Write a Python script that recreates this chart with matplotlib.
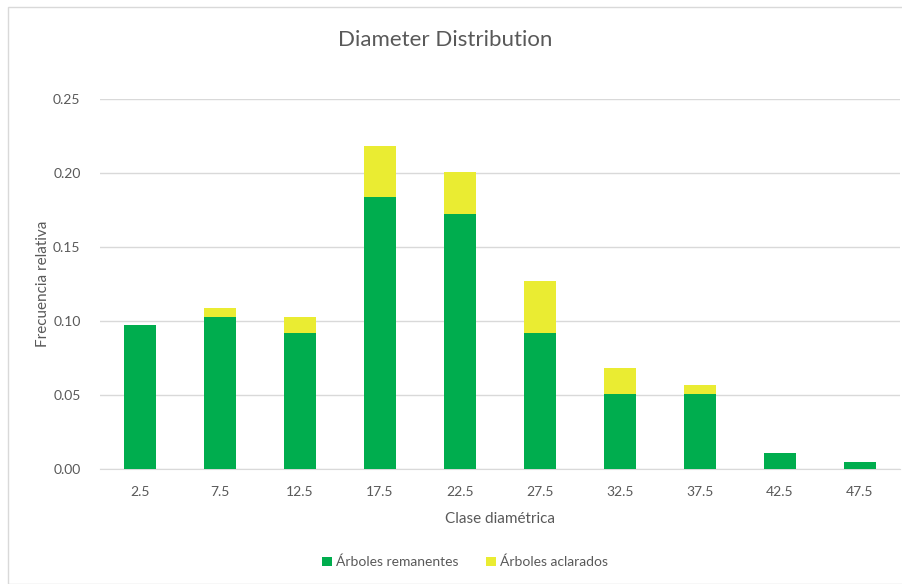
import matplotlib
matplotlib.use("Agg")
import matplotlib.pyplot as plt
from matplotlib.patches import Rectangle

categories = ["2.5", "7.5", "12.5", "17.5", "22.5", "27.5", "32.5", "37.5", "42.5", "47.5"]
remanentes = [0.097, 0.103, 0.092, 0.184, 0.172, 0.092, 0.051, 0.051, 0.011, 0.005]
aclarados = [0.0, 0.006, 0.011, 0.034, 0.029, 0.035, 0.017, 0.006, 0.0, 0.0]
yticks = [0.00, 0.05, 0.10, 0.15, 0.20, 0.25]

green = "#00AD4E"
yellow = "#EAEC32"
txt = "#595959"

plt.rcParams['font.family'] = ['Lato', 'DejaVu Sans']

fig = plt.figure(figsize=(9.02, 5.84), dpi=100)
W, H = 902, 584
ax = fig.add_axes([100 / W, 1 - 469 / H, 800 / W, 370 / H])

x = range(len(categories))
ax.bar(x, remanentes, width=0.39, color=green, label="Árboles remanentes", zorder=3)
ax.bar(x, aclarados, width=0.39, bottom=remanentes, color=yellow, label="Árboles aclarados", zorder=3)

ax.set_xlim(-0.5, len(categories) - 0.5)
ax.set_ylim(0, 0.25)
ax.set_yticks(yticks)
ax.set_yticklabels([f"{v:.2f}" for v in yticks], color=txt, fontsize=10)
ax.set_xticks(list(x))
ax.set_xticklabels(categories, color=txt, fontsize=10)
ax.tick_params(axis='both', length=0)
ax.tick_params(axis='x', pad=12)
ax.tick_params(axis='y', pad=14)
ax.grid(axis='y', color="#d9d9d9", linewidth=1, zorder=0)
for s in ["top", "right", "left"]:
    ax.spines[s].set_visible(False)
ax.spines["bottom"].set_color("#d9d9d9")

ax.set_xlabel("Clase diamétrica", color=txt, fontsize=11, labelpad=10)
ax.set_ylabel("Frecuencia relativa", color=txt, fontsize=11, labelpad=2)

fig.text(445 / W, 1 - 40 / H, "Diameter Distribution", ha='center', va='center', fontsize=16, color=txt)

fig.legend(loc='center', bbox_to_anchor=(465 / W, 1 - 562 / H), ncol=2, frameon=False,
           fontsize=10, labelcolor=txt, handlelength=0.7, handleheight=0.7, handletextpad=0.3,
           columnspacing=2.0)

fig.patches.append(Rectangle((8 / W, 0), 1, 1 - 7 / H, transform=fig.transFigure,
                             fill=False, edgecolor="#d9d9d9", linewidth=1))

fig.savefig("out.png", dpi=100)
